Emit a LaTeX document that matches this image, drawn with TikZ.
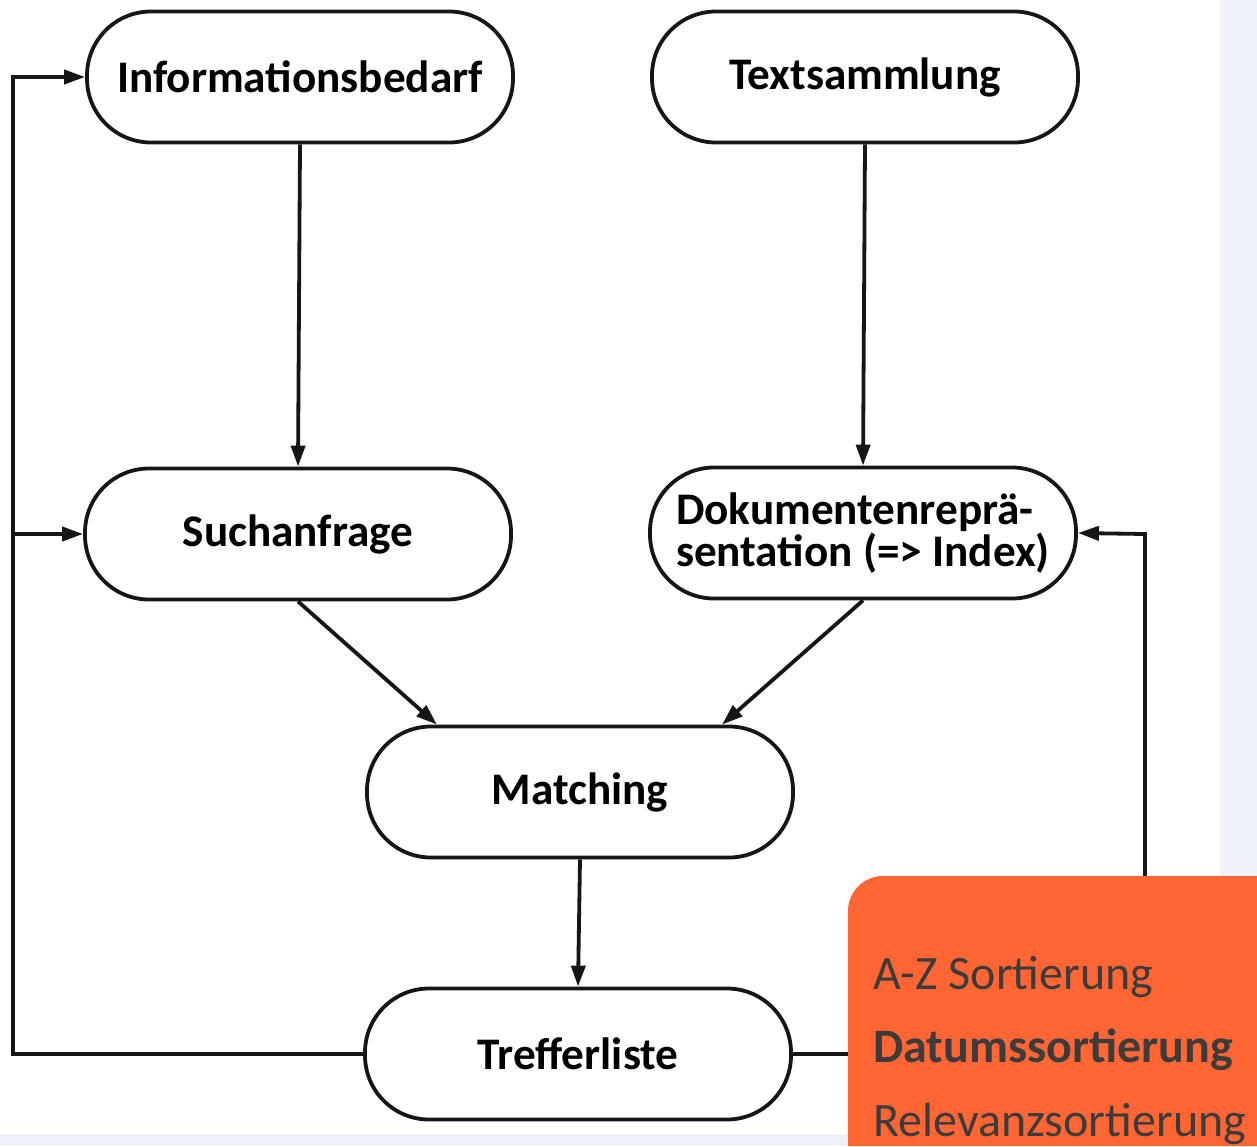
\documentclass[tikz,border=0pt]{standalone}
\usepackage{fontspec}
\setmainfont{Carlito}
\usetikzlibrary{arrows.meta}
\definecolor{obg}{RGB}{255,102,51}
\definecolor{sidebg}{RGB}{238,241,248}
\definecolor{txtgrey}{RGB}{60,60,60}
\definecolor{ink}{RGB}{22,22,22}
\begin{document}
\begin{tikzpicture}[x=0.5pt,y=-0.5pt,
  box/.style={draw=ink, line width=1.9pt, fill=white, rounded corners=32pt,
    minimum width=213pt, minimum height=65.5pt, inner sep=0pt,
    font=\bfseries\fontsize{22.6}{26}\selectfont},
  arr/.style={draw=ink, line width=1.9pt, -{Triangle[length=10.5pt,width=7pt]}},
  ln/.style={draw=ink, line width=1.9pt},
  otext/.style={anchor=base west, text=txtgrey, inner sep=0pt, font=\fontsize{24}{28}\selectfont}]
\useasboundingbox (0,0) rectangle (1257,1146);
\fill[sidebg] (0,0) rectangle (1257,1146);
\fill[white] (0,0) rectangle (1220,1134);
% nodes
\node[box] (i) at (300,77) {Informationsbedarf};
\node[box] (x) at (865,77) {\raisebox{3pt}{Textsammlung}};
\node[box] (s) at (298,534) {Suchanfrage};
\node[box, align=left, font=\bfseries\fontsize{22.6}{20}\selectfont] (d) at (863,533) {Dokumentenrepr\"a-\\sentation (=> Index)};
\node[box] (m) at (580,792) {Matching};
\node[box] (t) at (578,1054) {Trefferliste};
% coordinates
\coordinate (lb) at (13,1054);
\coordinate (rt) at (1145,534);
\coordinate (obn) at (1145,876);
\coordinate (obw) at (850,1054);
% connectors
\draw[arr] (i.south) -- (s.north);
\draw[arr] (x.south) -- (d.north);
\draw[arr] (s.south) -- ([xshift=-71.5pt]m.north);
\draw[arr] (d.south) -- ([xshift=71pt]m.north);
\draw[arr] (m.south) -- (t.north);
\draw[arr] (t.west) -- (lb) |- (i.west);
\draw[arr] (lb |- s.west) -- (s.west);
\draw[arr] (obn) -- (rt) -- (d.east);
\draw[ln] (t.east) -- (t.east -| obw);
% orange box
\fill[obg] (1257,1146) -- (848,1146) [rounded corners=17.5pt] -- (848,876) [sharp corners] -- (1257,876) -- cycle;
\node[otext] (o1) at (873,989) {A-Z Sortierung};
\node[otext, font=\bfseries\fontsize{24}{28}\selectfont] (o2) at (873,1062) {Datumssortierung};
\node[otext] (o3) at (873,1136) {Relevanzsortierung};
\end{tikzpicture}
\end{document}
